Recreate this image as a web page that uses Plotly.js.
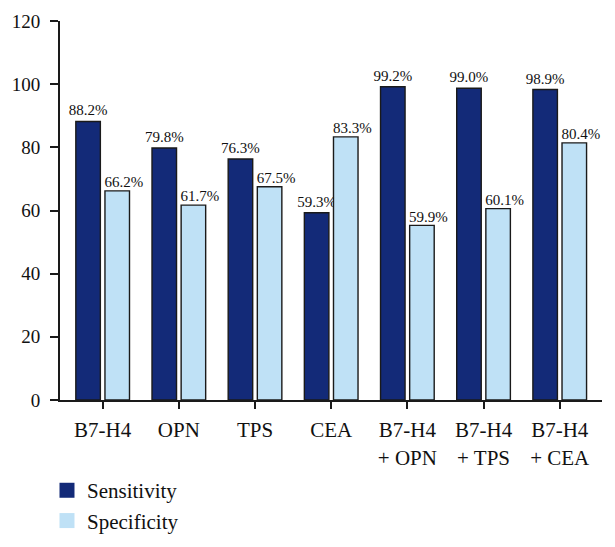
<!DOCTYPE html>
<html>
<head>
<meta charset="utf-8">
<script src="https://cdn.plot.ly/plotly-3.0.1.min.js"></script>
<style>html,body{margin:0;padding:0;background:#fff;}#chart{width:615px;height:547px;}</style>
</head>
<body>
<div id="chart"></div>
<script>
const categories = ["B7-H4", "OPN", "TPS", "CEA", "B7-H4<br>+ OPN", "B7-H4<br>+ TPS", "B7-H4<br>+ CEA"];
const sensitivityValues = [88.2, 79.8, 76.3, 59.3, 99.2, 98.7, 98.3];
const specificityValues = [66.2, 61.7, 67.5, 83.3, 55.3, 60.6, 81.4];
const sensitivityLabels = ["88.2%", "79.8%", "76.3%", "59.3%", "99.2%", "99.0%", "98.9%"];
const specificityLabels = ["66.2%", "61.7%", "67.5%", "83.3%", "59.9%", "60.1%", "80.4%"];
const yTicks = [0, 20, 40, 60, 80, 100, 120];

const navy = "#132a78";
const light = "#bfe1f6";
const serif = "Liberation Serif, Times New Roman, serif";
const xIdx = categories.map((c, i) => i);
const xRange = [-0.56, 6.555];
const specLabelShift = 0.277; // label axis shift (category units) so labels sit over the right-hand bar
const xRange2 = [xRange[0] - specLabelShift, xRange[1] - specLabelShift];

const traces = [
  {
    type: "bar", name: "Sensitivity", x: xIdx, y: sensitivityValues,
    text: sensitivityLabels, textposition: "outside", cliponaxis: false,
    constraintext: "none",
    textfont: {family: serif, size: 15, color: "#111"},
    marker: {color: navy, line: {color: "#1a1a1a", width: 1.4}},
    showlegend: false, hoverinfo: "skip"
  },
  {
    type: "bar", name: "Specificity", x: xIdx, y: specificityValues,
    marker: {color: light, line: {color: "#1a1a1a", width: 1.4}},
    showlegend: false, hoverinfo: "skip"
  },
  {
    type: "scatter", mode: "text", name: "Specificity labels", x: xIdx, y: specificityValues,
    xaxis: "x2", text: specificityLabels, textposition: "top center", cliponaxis: false,
    textfont: {family: serif, size: 15, color: "#111"},
    showlegend: false, hoverinfo: "skip"
  },
  {
    type: "scatter", mode: "markers", name: "Sensitivity", x: [null], y: [null],
    marker: {symbol: "square", size: 15, color: navy}, showlegend: true
  },
  {
    type: "scatter", mode: "markers", name: "Specificity", x: [null], y: [null],
    marker: {symbol: "square", size: 15, color: light}, showlegend: true
  }
];

const layout = {
  width: 615, height: 547,
  margin: {l: 60, r: 13, t: 21, b: 147, autoexpand: false},
  paper_bgcolor: "#fff", plot_bgcolor: "#fff",
  barmode: "group", bargap: 0.235, bargroupgap: 0.158,
  font: {family: serif, color: "#111"},
  xaxis: {
    tickmode: "array", tickvals: xIdx, ticktext: categories, tickangle: 0,
    range: xRange, showgrid: false, zeroline: false,
    showline: true, linecolor: "#1a1a1a", linewidth: 2,
    ticks: "outside", ticklen: 7, tickwidth: 2, tickcolor: "#1a1a1a",
    tickfont: {family: serif, size: 21, color: "#111"},
    ticklabelstandoff: 3, automargin: false,
    fixedrange: true
  },
  xaxis2: {
    overlaying: "x", range: xRange2, visible: false, fixedrange: true
  },
  yaxis: {
    range: [0, 120], tickvals: yTicks, showgrid: false, zeroline: false,
    showline: true, linecolor: "#1a1a1a", linewidth: 2,
    ticks: "outside", ticklen: 8, tickwidth: 2, tickcolor: "#1a1a1a",
    tickfont: {family: serif, size: 19, color: "#111"},
    ticklabelstandoff: 6, automargin: false,
    fixedrange: true
  },
  showlegend: true,
  legend: {
    x: -0.024, xanchor: "left", y: -0.185, yanchor: "top",
    orientation: "v", font: {family: serif, size: 21, color: "#111"},
    tracegroupgap: 0, itemsizing: "trace", bgcolor: "rgba(0,0,0,0)"
  }
};

Plotly.newPlot("chart", traces, layout, {displayModeBar: false, staticPlot: true});
</script>
</body>
</html>
